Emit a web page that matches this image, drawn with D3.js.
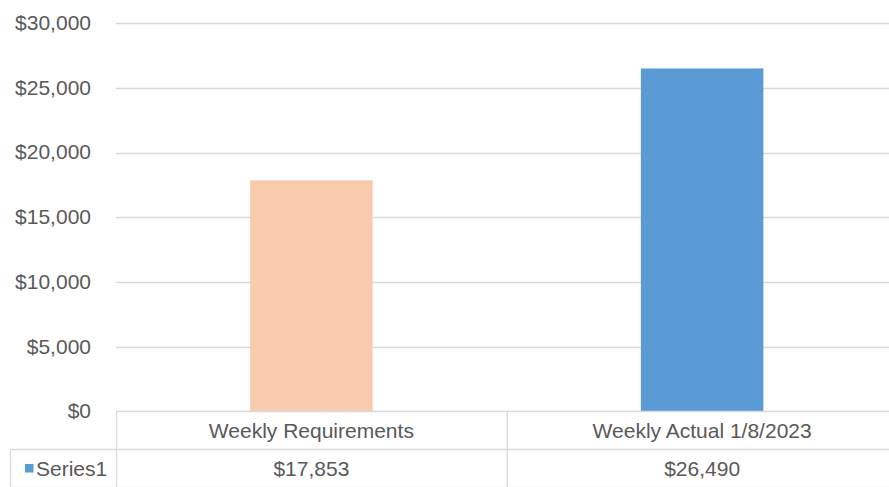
<!DOCTYPE html>
<html>
<head>
<meta charset="utf-8">
<script src="https://cdn.jsdelivr.net/npm/d3@7"></script>
<style>
  html, body { margin: 0; padding: 0; background: #ffffff; }
  svg { display: block; }
  text { font-family: "Liberation Sans", Arial, sans-serif; fill: #595959; }
</style>
</head>
<body>
<svg id="chart" width="889" height="487"></svg>
<script>
const categories = ["Weekly Requirements", "Weekly Actual 1/8/2023"];
const seriesName = "Series1";
const values = [17853, 26490];
const barColors = ["#F8CBAD", "#5B9BD5"];
const legendColor = "#5B9BD5";
const yTicks = [0, 5000, 10000, 15000, 20000, 25000, 30000];

const W = 889, H = 487;
const plotLeft = 116, plotRight = 897.5;
const yTop = 23, yZero = 411.5;
const rowH = 38;
const tableLeft = 10.5;
const fontSize = 21;
const gridColor = "#D9D9D9";

const svg = d3.select("#chart");

const x = d3.scaleBand().domain(categories).range([plotLeft, plotRight]).padding(0);
const y = d3.scaleLinear().domain([0, 30000]).range([yZero, yTop]);
const fmt = v => "$" + d3.format(",")(v);

// gridlines
svg.append("g")
  .selectAll("line")
  .data(yTicks.filter(t => t > 0))
  .join("line")
  .attr("x1", plotLeft)
  .attr("x2", W)
  .attr("y1", d => Math.round(y(d)) + 0.5)
  .attr("y2", d => Math.round(y(d)) + 0.5)
  .attr("stroke", gridColor)
  .attr("stroke-width", 1.3);

// y axis labels
const yAxis = d3.axisLeft(y).tickValues(yTicks).tickFormat(fmt).tickSize(0).tickPadding(0);
const gy = svg.append("g").attr("transform", "translate(91,0)").call(yAxis);
gy.select(".domain").remove();
gy.selectAll("text")
  .attr("font-size", fontSize)
  .attr("font-family", "Liberation Sans, Arial, sans-serif")
  .attr("fill", "#595959")
  .attr("dy", "0.3em");

// bars
const barW = x.bandwidth() / 3.19;
svg.append("g")
  .selectAll("rect")
  .data(values)
  .join("rect")
  .attr("x", (d, i) => x(categories[i]) + x.bandwidth() / 2 - barW / 2)
  .attr("y", d => y(d))
  .attr("width", barW)
  .attr("height", d => yZero - y(d))
  .attr("fill", (d, i) => barColors[i]);

// data table lines
const tbl = svg.append("g").attr("stroke", gridColor).attr("stroke-width", 1.3).attr("fill", "none");
const yRow1 = Math.round(yZero) + 0.5 - 0.5;
const yRow2 = yZero + rowH;
const yRow3 = yZero + 2 * rowH;
tbl.append("line").attr("x1", plotLeft).attr("x2", W).attr("y1", yZero).attr("y2", yZero);
tbl.append("line").attr("x1", tableLeft).attr("x2", W).attr("y1", yRow2).attr("y2", yRow2);
tbl.append("line").attr("x1", tableLeft).attr("x2", W).attr("y1", yRow3).attr("y2", yRow3);
tbl.append("line").attr("x1", tableLeft).attr("x2", tableLeft).attr("y1", yRow2).attr("y2", yRow3);
tbl.selectAll("line.v")
  .data(categories.concat(["end"]))
  .join("line")
  .attr("class", "v")
  .attr("x1", (d, i) => i < categories.length ? x(d) + 0.5 : plotRight)
  .attr("x2", (d, i) => i < categories.length ? x(d) + 0.5 : plotRight)
  .attr("y1", yZero)
  .attr("y2", yRow3);

// category labels
svg.append("g")
  .selectAll("text")
  .data(categories)
  .join("text")
  .attr("x", d => x(d) + x.bandwidth() / 2)
  .attr("y", yZero + rowH / 2)
  .attr("dy", "0.36em")
  .attr("text-anchor", "middle")
  .attr("font-size", fontSize)
  .text(d => d);

// value row
svg.append("g")
  .selectAll("text")
  .data(values)
  .join("text")
  .attr("x", (d, i) => x(categories[i]) + x.bandwidth() / 2)
  .attr("y", yRow2 + rowH / 2)
  .attr("dy", "0.36em")
  .attr("text-anchor", "middle")
  .attr("font-size", fontSize)
  .text(d => fmt(d));

// legend key + series name
svg.append("rect")
  .attr("x", 25)
  .attr("y", yRow2 + rowH / 2 - 4.5)
  .attr("width", 8.5)
  .attr("height", 8.5)
  .attr("fill", legendColor);
svg.append("text")
  .attr("x", 36)
  .attr("y", yRow2 + rowH / 2)
  .attr("dy", "0.36em")
  .attr("font-size", fontSize)
  .text(seriesName);
</script>
</body>
</html>
